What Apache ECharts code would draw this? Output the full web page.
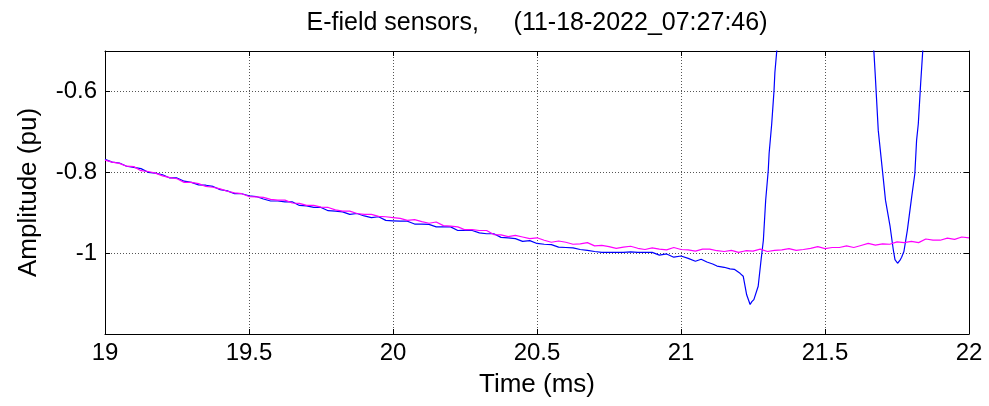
<!DOCTYPE html>
<html>
<head>
<meta charset="utf-8">
<script src="https://cdn.jsdelivr.net/npm/echarts@6/dist/echarts.min.js"></script>
<style>
  html, body { margin: 0; padding: 0; background: #fff; }
  #main { width: 989px; height: 406px; }
</style>
</head>
<body>
<div id="main"></div>
<script>
// sensor traces (time in ms, amplitude in pu)
let magentaTime = [
  19.000, 19.025, 19.050, 19.075, 19.100, 19.125, 19.150, 19.175, 19.200, 19.225,
  19.250, 19.275, 19.300, 19.325, 19.350, 19.375, 19.400, 19.425, 19.450, 19.475,
  19.500, 19.525, 19.550, 19.575, 19.600, 19.625, 19.650, 19.675, 19.700, 19.725,
  19.750, 19.775, 19.800, 19.825, 19.850, 19.875, 19.900, 19.925, 19.950, 19.975,
  20.000, 20.025, 20.050, 20.075, 20.100, 20.125, 20.150, 20.175, 20.200, 20.225,
  20.250, 20.275, 20.300, 20.325, 20.350, 20.375, 20.400, 20.425, 20.450, 20.475,
  20.500, 20.525, 20.550, 20.575, 20.600, 20.625, 20.650, 20.675, 20.700, 20.725,
  20.750, 20.775, 20.800, 20.825, 20.850, 20.875, 20.900, 20.925, 20.950, 20.975,
  21.000, 21.025, 21.050, 21.075, 21.100, 21.125, 21.150, 21.175, 21.200, 21.225,
  21.250, 21.275, 21.300, 21.325, 21.350, 21.375, 21.400, 21.425, 21.450, 21.475,
  21.500, 21.525, 21.550, 21.575, 21.600, 21.625, 21.650, 21.675, 21.700, 21.725,
  21.750, 21.775, 21.800, 21.825, 21.850, 21.875, 21.900, 21.925, 21.950, 21.975,
  22.000
];
let magentaValues = [
  -0.770, -0.775, -0.778, -0.785, -0.786, -0.796, -0.798, -0.802, -0.809, -0.813,
  -0.816, -0.825, -0.825, -0.828, -0.835, -0.837, -0.841, -0.847, -0.851, -0.853,
  -0.860, -0.861, -0.862, -0.867, -0.869, -0.869, -0.876, -0.877, -0.882, -0.882,
  -0.886, -0.887, -0.893, -0.896, -0.896, -0.902, -0.904, -0.904, -0.909, -0.910,
  -0.912, -0.914, -0.919, -0.917, -0.922, -0.926, -0.923, -0.932, -0.933, -0.935,
  -0.942, -0.942, -0.944, -0.944, -0.954, -0.955, -0.959, -0.956, -0.960, -0.964,
  -0.962, -0.968, -0.973, -0.970, -0.973, -0.978, -0.977, -0.974, -0.982, -0.981,
  -0.984, -0.988, -0.985, -0.983, -0.988, -0.991, -0.987, -0.990, -0.992, -0.986,
  -0.991, -0.992, -0.995, -0.990, -0.990, -0.994, -0.996, -0.993, -0.998, -0.994,
  -0.995, -0.990, -0.996, -0.993, -0.992, -0.989, -0.993, -0.991, -0.988, -0.984,
  -0.989, -0.986, -0.986, -0.982, -0.986, -0.981, -0.976, -0.980, -0.977, -0.978,
  -0.972, -0.974, -0.971, -0.974, -0.965, -0.968, -0.968, -0.963, -0.966, -0.960,
  -0.962
];
let blueTime = [
  19.000, 19.025, 19.050, 19.075, 19.100, 19.125, 19.150, 19.175, 19.200, 19.225,
  19.250, 19.275, 19.300, 19.325, 19.350, 19.375, 19.400, 19.425, 19.450, 19.475,
  19.500, 19.525, 19.550, 19.575, 19.600, 19.625, 19.650, 19.675, 19.700, 19.725,
  19.750, 19.775, 19.800, 19.825, 19.850, 19.875, 19.900, 19.925, 19.950, 19.975,
  20.000, 20.025, 20.050, 20.075, 20.100, 20.125, 20.150, 20.175, 20.200, 20.225,
  20.250, 20.275, 20.300, 20.325, 20.350, 20.375, 20.400, 20.425, 20.450, 20.475,
  20.500, 20.525, 20.550, 20.575, 20.600, 20.625, 20.650, 20.675, 20.700, 20.725,
  20.750, 20.775, 20.800, 20.825, 20.850, 20.875, 20.900, 20.925, 20.950, 20.975,
  21.000, 21.025, 21.050, 21.070, 21.090, 21.110, 21.125, 21.150, 21.170, 21.185,
  21.195, 21.205, 21.216, 21.228, 21.240, 21.246, 21.253, 21.268, 21.278, 21.286,
  21.294, 21.303, 21.306, 21.315, 21.323, 21.326, 21.332, 21.360, 21.500, 21.650,
  21.670, 21.674, 21.685, 21.703, 21.710, 21.726, 21.737, 21.743, 21.752, 21.760,
  21.766, 21.774, 21.786, 21.801, 21.812, 21.818, 21.824, 21.832, 21.839, 21.860,
  21.950
];
let blueValues = [
  -0.768, -0.775, -0.777, -0.785, -0.788, -0.791, -0.800, -0.802, -0.806, -0.814,
  -0.814, -0.822, -0.825, -0.831, -0.832, -0.835, -0.843, -0.846, -0.853, -0.853,
  -0.858, -0.860, -0.866, -0.871, -0.871, -0.873, -0.873, -0.882, -0.883, -0.887,
  -0.887, -0.895, -0.896, -0.898, -0.904, -0.902, -0.908, -0.912, -0.910, -0.919,
  -0.920, -0.921, -0.921, -0.928, -0.928, -0.929, -0.935, -0.935, -0.935, -0.944,
  -0.943, -0.944, -0.950, -0.952, -0.952, -0.961, -0.962, -0.964, -0.971, -0.969,
  -0.976, -0.978, -0.979, -0.985, -0.986, -0.987, -0.991, -0.993, -0.996, -0.998,
  -0.998, -0.998, -0.998, -0.997, -0.998, -0.998, -0.998, -1.005, -1.002, -1.010,
  -1.007, -1.013, -1.020, -1.015, -1.022, -1.027, -1.032, -1.035, -1.039, -1.040,
  -1.045, -1.050, -1.057, -1.103, -1.127, -1.120, -1.115, -1.082, -1.017, -0.968,
  -0.869, -0.795, -0.753, -0.680, -0.598, -0.553, -0.504, -0.250, 0.500, -0.380,
  -0.504, -0.553, -0.697, -0.820, -0.869, -0.934, -0.991, -1.016, -1.025, -1.018,
  -1.010, -0.996, -0.943, -0.861, -0.803, -0.721, -0.680, -0.582, -0.504, -0.300,
  0.300
];
let yLabels = [-0.6, -0.8, -1];

const pairs = (xs, ys) => xs.map((x, i) => [x, ys[i]]);

let chartDom = document.getElementById('main');
let myChart = echarts.init(chartDom, null, { renderer: 'canvas' });
const font = 'Arial, "Liberation Sans", sans-serif';
const gridLine = { show: true, lineStyle: { color: '#555', type: [1, 2], width: 1 } };
const boxLine = { show: true, onZero: false, lineStyle: { color: '#000', width: 1 } };
const tick = { show: true, inside: true, length: 5, lineStyle: { color: '#000', width: 1 } };

let option = {
  animation: false,
  backgroundColor: '#fff',
  title: {
    text: 'E-field sensors,     (11-18-2022_07:27:46)',
    left: 532,
    textAlign: 'center',
    top: 6,
    textStyle: { fontFamily: font, fontSize: 25, fontWeight: 'normal', color: '#000' }
  },
  grid: { left: 105, top: 51, right: 20, bottom: 72, containLabel: false },
  xAxis: [
    {
      type: 'value', min: 19, max: 22, interval: 0.5,
      name: 'Time (ms)', nameLocation: 'middle', nameGap: 38,
      nameTextStyle: { fontFamily: font, fontSize: 26, color: '#000' },
      axisLine: boxLine, axisTick: tick,
      axisLabel: { fontFamily: font, fontSize: 24, color: '#000', margin: 7 },
      splitLine: gridLine
    },
    {
      type: 'value', position: 'top', min: 19, max: 22, interval: 0.5,
      axisLine: boxLine, axisTick: tick, axisLabel: { show: false }, splitLine: { show: false }
    }
  ],
  yAxis: [
    {
      type: 'value', min: -1.2, max: -0.5, interval: 0.2,
      name: 'Amplitude (pu)', nameLocation: 'middle', nameGap: 63, nameRotate: 90,
      nameTextStyle: { fontFamily: font, fontSize: 26, color: '#000' },
      axisLine: boxLine, axisTick: tick,
      axisLabel: {
        fontFamily: font, fontSize: 24, color: '#000', margin: 8,
        formatter: function (v) {
          let hit = yLabels.find(l => Math.abs(l - v) < 1e-6);
          return hit === undefined ? '' : String(hit);
        }
      },
      splitLine: gridLine
    },
    {
      type: 'value', position: 'right', min: -1.2, max: -0.5, interval: 0.2,
      axisLine: boxLine, axisTick: tick, axisLabel: { show: false }, splitLine: { show: false }
    }
  ],
  series: [
    {
      name: 'sensor 1', type: 'line', data: pairs(blueTime, blueValues),
      showSymbol: false, symbol: 'none', clip: true,
      lineStyle: { color: '#0000ff', width: 1.2 }, itemStyle: { color: '#0000ff' }
    },
    {
      name: 'sensor 2', type: 'line', data: pairs(magentaTime, magentaValues),
      showSymbol: false, symbol: 'none', clip: true,
      lineStyle: { color: '#ff00ff', width: 1.2 }, itemStyle: { color: '#ff00ff' }
    }
  ]
};
option && myChart.setOption(option);
</script>
</body>
</html>
